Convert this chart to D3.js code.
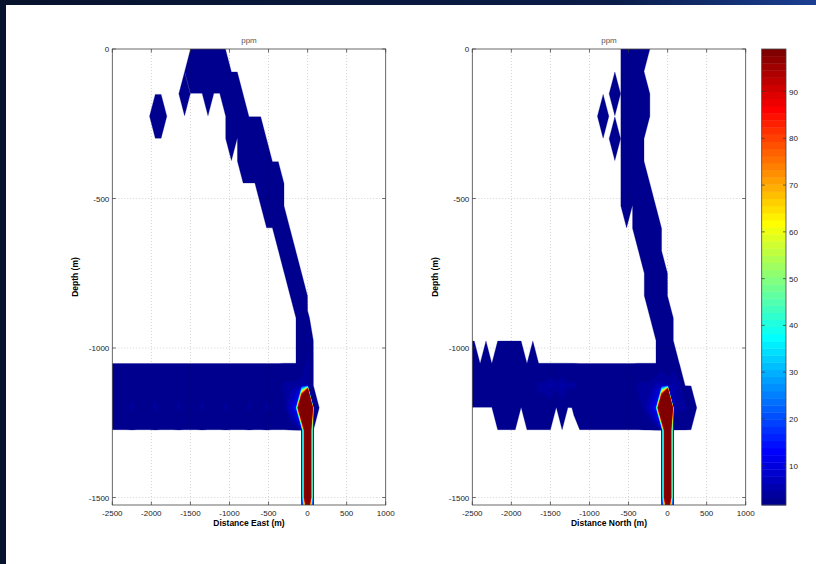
<!DOCTYPE html>
<html>
<head>
<meta charset="utf-8">
<title>ppm</title>
<script src="https://cdn.jsdelivr.net/npm/d3@7"></script>
<style>
body { margin: 0; background: #ffffff; }
text { font-family: "Liberation Sans", Arial, Helvetica, sans-serif; }
</style>
</head>
<body>
<svg id="drawing_region"></svg>
<script>
// concentration grid: nodes every 75 m, x from -2550 to 1050 m, depth 0 to -1575 m
const gridStep = 75;
const gridKMin = -34;
const gridKMax = 14;
const gridRows = 22;

const xTicks = [-2500, -2000, -1500, -1000, -500, 0, 500, 1000];
const depthTicks = [0, -500, -1000, -1500];
const ppmTicks = [10, 20, 30, 40, 50, 60, 70, 80, 90];
const ppmLevels = [0.05, 3, 4.5, 6, 8, 10, 13, 16, 20, 25, 30, 35, 40, 45, 50, 55, 60, 65, 70, 75, 80, 85, 90, 95, 98, 99];

// ppm value of each grid code
const ppmCode = { '.': 0, 'a': 0.075, '1': 2, '2': 3.5, '3': 5, '4': 7, '5': 10, '6': 15, 'R': 200, 'S': 60, 'P': 220, 'Q': 600 };

// one entry per depth row (0, -75, ... -1575): [first node k (x = k*75), codes]; unlisted nodes are 0
const eastRuns = [
    [[-19, '11111']],
    [[-20, '1111111']],
    [[-21, '1...1..111']],
    [[-26, '11'], [-13, '111']],
    [[-13, '1.1111']],
    [[-11, '11111']],
    [[-8, '1111']],
    [[-7, '111']],
    [[-5, '11']],
    [[-4, '11']],
    [[-3, '11']],
    [[-2, '11']],
    [[-1, '1a']],
    [[-1, '11']],
    [[-1, '12']],
    [[-34, '111111111111111111111111111111'], [-4, '22222']],
    [[-34, '11112111211121112111'], [-14, '2111211211146PQ2']],
    [[0, 'R']],
    [[0, 'R']],
    [[0, 'R']],
    [[0, 'R']],
    [[0, 'S']]
];

const northRuns = [
    [[-7, '1111']],
    [[-7, '111']],
    [[-9, '1.1111']],
    [[-11, '1...1111']],
    [[-9, '1.111']],
    [[-7, '111']],
    [[-7, '1111']],
    [[-7, '1.111']],
    [[-5, '1111']],
    [[-4, '111']],
    [[-3, '111']],
    [[-3, '111']],
    [[-2, '111']],
    [[-1, '11']],
    [[-34, '11.1.11111.1'], [-1, '111']],
    [[-34, '111111111111'], [-22, '2232322'], [-15, '1111111111'], [-5, '22233232']],
    [[-29, '1111.11111.1.a'], [-15, '111111111112'], [-3, '46PQ3221']],
    [[0, 'R']],
    [[0, 'R']],
    [[0, 'R']],
    [[0, 'R']],
    [[0, 'S']]
];

const ppmRange = [1.6, 99.1];

// MATLAB style jet colormap
function jetColormap(m) {
    const n = Math.ceil(m / 4);
    const u = [];
    for (let i = 1; i <= n; i++) u.push(i / n);
    for (let i = 1; i < n; i++) u.push(1);
    for (let i = n; i >= 1; i--) u.push(i / n);
    const g0 = Math.ceil(n / 2) - (m % 4 === 1 ? 1 : 0);
    const cols = d3.range(m).map(() => [0, 0, 0]);
    u.forEach((val, i) => {
        const gi = g0 + i, ri = gi + n, bi = gi - n;
        if (gi >= 0 && gi < m) cols[gi][1] = val;
        if (ri >= 0 && ri < m) cols[ri][0] = val;
        if (bi >= 0 && bi < m) cols[bi][2] = val;
    });
    return cols.map(c => d3.rgb(c[0] * 255, c[1] * 255, c[2] * 255).formatHex());
}

const jet = jetColormap(64);
const colorIndex = d3.scaleLinear().domain(ppmRange).range([0, 63]).clamp(true);

class ContourPanel {
    constructor(config, runs) {
        this.config = config;
        this.runs = runs;
        this.init();
    }

    init() {
        let self = this;
        const c = self.config;
        self.g = c.svg.append('g');
        self.x = d3.scaleLinear().domain([-2500, 1000]).range([c.left, c.left + c.width]);
        self.y = d3.scaleLinear().domain([-1525, 0]).range([c.top + c.height, c.top]);

        const nx = gridKMax - gridKMin + 1;
        self.values = new Array(nx * gridRows).fill(0);
        self.runs.forEach((row, j) => row.forEach(([k0, codes]) => {
            Array.from(codes).forEach((ch, n) => {
                self.values[j * nx + (k0 - gridKMin + n)] = ppmCode[ch];
            });
        }));
        self.nx = nx;
    }

    render() {
        let self = this;
        const c = self.config;
        const x = self.x, y = self.y;

        c.defs.append('clipPath').attr('id', 'clip-' + c.id)
            .append('rect')
            .attr('x', c.left).attr('y', c.top)
            .attr('width', c.width).attr('height', c.height);

        const bands = d3.contours()
            .size([self.nx, gridRows])
            .thresholds(ppmLevels)(self.values);

        const toPx = d3.geoTransform({
            point: function(gx, gy) {
                this.stream.point(x((gridKMin + gx - 0.5) * gridStep), y(-(gy - 0.5) * gridStep));
            }
        });
        const path = d3.geoPath(toPx);

        self.g.append('g')
            .attr('clip-path', `url(#clip-${c.id})`)
            .selectAll('path')
            .data(bands)
            .join('path')
            .attr('d', path)
            .attr('fill', d => jet[Math.round(colorIndex(d.value))])
            .attr('stroke', d => jet[Math.round(colorIndex(d.value))])
            .attr('stroke-width', 0.3);

        // dotted grid drawn over the fill
        const grid = self.g.append('g')
            .attr('stroke', '#000')
            .attr('stroke-opacity', 0.3)
            .attr('stroke-width', 0.6)
            .attr('stroke-dasharray', '1,2');
        grid.selectAll('.vx').data(xTicks.slice(1, -1)).join('line')
            .attr('x1', d => x(d)).attr('x2', d => x(d))
            .attr('y1', c.top).attr('y2', c.top + c.height);
        grid.selectAll('.hy').data(depthTicks.slice(1)).join('line')
            .attr('x1', c.left).attr('x2', c.left + c.width)
            .attr('y1', d => y(d)).attr('y2', d => y(d));

        // ticks inside the box
        const tl = 3.5;
        const ticks = self.g.append('g').attr('stroke', '#333').attr('stroke-width', 0.7);
        xTicks.forEach(t => {
            ticks.append('line').attr('x1', x(t)).attr('x2', x(t)).attr('y1', c.top + c.height).attr('y2', c.top + c.height - tl);
            ticks.append('line').attr('x1', x(t)).attr('x2', x(t)).attr('y1', c.top).attr('y2', c.top + tl);
        });
        depthTicks.forEach(t => {
            ticks.append('line').attr('x1', c.left).attr('x2', c.left + tl).attr('y1', y(t)).attr('y2', y(t));
            ticks.append('line').attr('x1', c.left + c.width).attr('x2', c.left + c.width - tl).attr('y1', y(t)).attr('y2', y(t));
        });

        self.g.append('rect')
            .attr('x', c.left).attr('y', c.top)
            .attr('width', c.width).attr('height', c.height)
            .attr('fill', 'none').attr('stroke', '#444').attr('stroke-width', 0.8);

        // tick labels
        self.g.append('g').selectAll('text').data(xTicks).join('text')
            .attr('x', d => x(d)).attr('y', c.top + c.height + 11)
            .attr('text-anchor', 'middle')
            .attr('font-size', 8).attr('fill', '#222')
            .text(d => d);
        self.g.append('g').selectAll('text').data(depthTicks).join('text')
            .attr('x', c.left - 3).attr('y', d => y(d) + 3)
            .attr('text-anchor', 'end')
            .attr('font-size', 8).attr('fill', '#222')
            .text(d => d);

        // labels
        self.g.append('text')
            .attr('x', c.left + c.width / 2).attr('y', c.top + c.height + 21)
            .attr('text-anchor', 'middle')
            .attr('font-size', 8.5).attr('font-weight', 'bold')
            .text(c.xlabel);
        self.g.append('text')
            .attr('transform', `translate(${c.left - 34}, ${c.top + c.height / 2}) rotate(-90)`)
            .attr('text-anchor', 'middle')
            .attr('font-size', 8.5).attr('font-weight', 'bold')
            .text('Depth (m)');
        self.g.append('text')
            .attr('x', c.left + c.width / 2).attr('y', c.top - 6)
            .attr('text-anchor', 'middle')
            .attr('font-size', 8).attr('fill', '#555')
            .text('ppm');
    }
}

const W = 816, H = 564;
const svg = d3.select('#drawing_region').attr('width', W).attr('height', H);
const defs = svg.append('defs');
const frame = defs.append('linearGradient').attr('id', 'frame');
frame.append('stop').attr('offset', '0%').attr('stop-color', '#07122c');
frame.append('stop').attr('offset', '75%').attr('stop-color', '#0a1c48');
frame.append('stop').attr('offset', '100%').attr('stop-color', '#1b3f92');
svg.append('rect').attr('width', W).attr('height', H).attr('fill', 'url(#frame)');
svg.append('rect').attr('x', 6).attr('y', 5).attr('width', W - 6).attr('height', H - 5).attr('fill', '#ffffff');

const panels = [
    { id: 'east', left: 112.3, xlabel: 'Distance East (m)', runs: eastRuns },
    { id: 'north', left: 472.3, xlabel: 'Distance North (m)', runs: northRuns }
];
panels.forEach(p => {
    const panel = new ContourPanel({
        svg: svg, defs: defs, id: p.id, left: p.left, top: 49,
        width: 273.4, height: 456, xlabel: p.xlabel
    }, p.runs);
    panel.render();
});

// colorbar
const cb = { left: 761.7, width: 24.3, top: 49, height: 456 };
const cbY = d3.scaleLinear().domain(ppmRange).range([cb.top + cb.height, cb.top]);
const stepPpm = (ppmRange[1] - ppmRange[0]) / jet.length;
svg.append('g').selectAll('rect').data(jet).join('rect')
    .attr('x', cb.left).attr('width', cb.width)
    .attr('y', (d, i) => cbY(ppmRange[0] + (i + 1) * stepPpm))
    .attr('height', (d, i) => cbY(ppmRange[0] + i * stepPpm) - cbY(ppmRange[0] + (i + 1) * stepPpm) + 0.4)
    .attr('fill', d => d);
const cbTicks = svg.append('g').attr('stroke', '#333').attr('stroke-width', 0.7);
ppmTicks.forEach(t => {
    cbTicks.append('line').attr('x1', cb.left).attr('x2', cb.left + 3).attr('y1', cbY(t)).attr('y2', cbY(t));
    cbTicks.append('line').attr('x1', cb.left + cb.width).attr('x2', cb.left + cb.width - 3).attr('y1', cbY(t)).attr('y2', cbY(t));
});
svg.append('rect')
    .attr('x', cb.left).attr('y', cb.top).attr('width', cb.width).attr('height', cb.height)
    .attr('fill', 'none').attr('stroke', '#444').attr('stroke-width', 0.8);
svg.append('g').selectAll('text').data(ppmTicks).join('text')
    .attr('x', cb.left + cb.width + 3).attr('y', d => cbY(d) + 3)
    .attr('font-size', 8).attr('fill', '#222')
    .text(d => d);
</script>
</body>
</html>
